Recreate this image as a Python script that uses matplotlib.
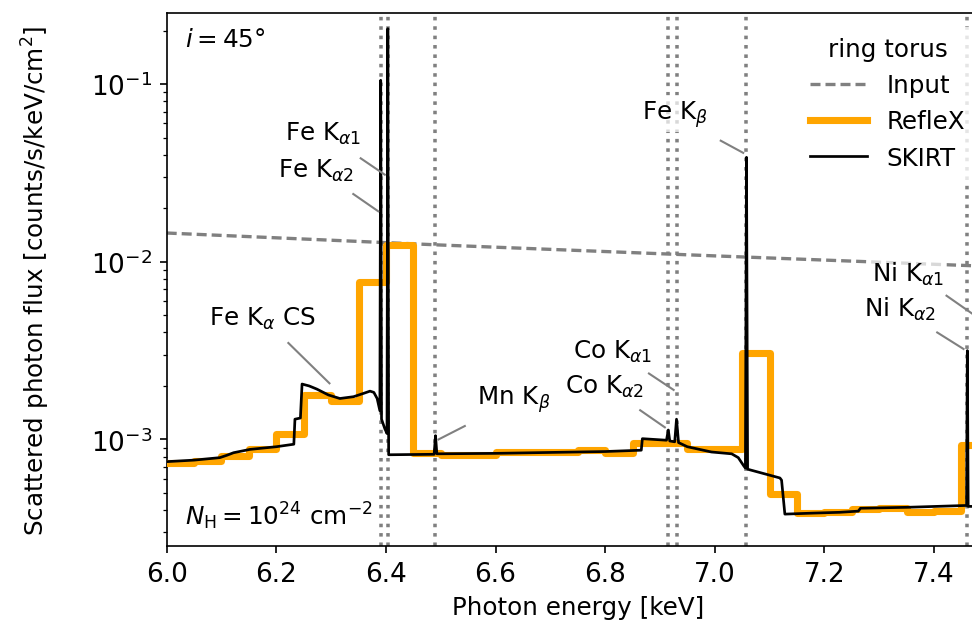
import numpy as np
import matplotlib.pyplot as plt

plt.rcParams['font.size'] = 11.8

# incident spectrum (grey dashed)
input_E = [6.0, 6.5, 7.0, 7.5]
input_F = [0.01451, 0.01242, 0.01079, 0.00942]

# RefleX histogram, 0.05 keV bins
reflex_edges = [6.00, 6.05, 6.10, 6.15, 6.20, 6.25, 6.30, 6.35, 6.40, 6.45,
                6.50, 6.55, 6.60, 6.65, 6.70, 6.75, 6.80, 6.85, 6.90, 6.95,
                7.00, 7.05, 7.10, 7.15, 7.20, 7.25, 7.30, 7.35, 7.40, 7.45, 7.50]
reflex_F = [7.4e-4, 7.55e-4, 8.1e-4, 8.8e-4, 1.07e-3, 1.77e-3, 1.64e-3, 7.7e-3, 1.24e-2, 8.4e-4,
            8.2e-4, 8.2e-4, 8.45e-4, 8.45e-4, 8.5e-4, 8.7e-4, 8.4e-4, 9.5e-4, 9.5e-4, 8.8e-4,
            8.8e-4, 3.08e-3, 4.9e-4, 3.85e-4, 3.9e-4, 4.05e-4, 4.1e-4, 3.93e-4, 3.97e-4, 9.3e-4]

# SKIRT spectrum
skirt_E = [6.000, 6.050, 6.097, 6.110, 6.122, 6.152, 6.200, 6.232, 6.234, 6.244,
           6.247, 6.260, 6.274, 6.295, 6.316, 6.341, 6.360, 6.371, 6.378, 6.384,
           6.389, 6.3905, 6.392, 6.398, 6.402, 6.4035, 6.405, 6.488, 6.4905, 6.493,
           6.600, 6.700, 6.800, 6.866, 6.868, 6.912, 6.9153, 6.918, 6.927, 6.9303,
           6.934, 6.950, 6.994, 7.031, 7.043, 7.053, 7.056, 7.058, 7.060, 7.119,
           7.122, 7.128, 7.180, 7.228, 7.262, 7.266, 7.350, 7.447, 7.4595, 7.461,
           7.4625, 7.476, 7.478, 7.480, 7.500]
skirt_F = [7.5e-4, 7.65e-4, 7.9e-4, 8.15e-4, 8.42e-4, 8.79e-4, 9.1e-4, 9.4e-4, 1.30e-3, 1.32e-3,
           2.05e-3, 2.0e-3, 1.92e-3, 1.78e-3, 1.70e-3, 1.74e-3, 1.82e-3, 1.87e-3, 1.84e-3, 1.70e-3,
           1.45e-3, 0.105, 1.3e-3, 1.15e-3, 1.08e-3, 0.205, 8.2e-4, 8.25e-4, 1.05e-3, 8.3e-4,
           8.35e-4, 8.45e-4, 8.55e-4, 8.7e-4, 1.01e-3, 9.9e-4, 1.13e-3, 9.8e-4, 9.7e-4, 1.30e-3,
           9.6e-4, 9.1e-4, 8.5e-4, 8.3e-4, 7.9e-4, 7.1e-4, 6.9e-4, 0.0387, 6.8e-4, 6.07e-4,
           5.9e-4, 3.8e-4, 3.85e-4, 3.89e-4, 3.95e-4, 4.1e-4, 4.15e-4, 4.24e-4, 4.25e-4, 3.16e-3,
           4.2e-4, 4.2e-4, 2.5e-3, 4.2e-4, 4.2e-4]

# fluorescent line energies (dotted)
line_E = [6.3908, 6.4038, 6.4905, 6.9153, 6.9303, 7.058, 7.461, 7.478]

# labels: text, text centre (E, F), line start (E, F), line end (E, F)
labels = [
    (r'Fe K$_{\alpha1}$', (6.286, 0.053), (6.354, 0.0382), (6.398, 0.0309)),
    (r'Fe K$_{\alpha2}$', (6.273, 0.0328), (6.3405, 0.02405), (6.386, 0.01923)),
    (r'Fe K$_{\alpha}$ CS', (6.174, 4.82e-3), (6.222, 3.49e-3), (6.297, 2.07e-3)),
    (r'Mn K$_{\beta}$', (6.633, 1.69e-3), (6.544, 1.19e-3), (6.496, 1.0e-3)),
    (r'Co K$_{\alpha1}$', (6.814, 3.17e-3), (6.880, 2.35e-3), (6.925, 1.90e-3)),
    (r'Co K$_{\alpha2}$', (6.799, 2.0e-3), (6.864, 1.46e-3), (6.909, 1.17e-3)),
    (r'Fe K$_{\beta}$', (6.927, 0.068), (7.011, 0.048), (7.052, 0.041)),
    (r'Ni K$_{\alpha1}$', (7.353, 8.56e-3), (7.423, 6.44e-3), (7.474, 5.0e-3)),
    (r'Ni K$_{\alpha2}$', (7.338, 5.44e-3), (7.406, 4.0e-3), (7.454, 3.23e-3)),
]

fig = plt.figure(figsize=(6.48, 4.1533), dpi=150)
ax = fig.add_axes([0.1715, 0.1213, 0.8457, 0.8557])

for e in line_E:
    ax.axvline(e, color='grey', ls=':', lw=1.7, zorder=1)

ax.plot(input_E, input_F, color='grey', ls=(0, (3, 1.5)), lw=1.6, label='Input', zorder=2)
ax.step(reflex_edges, reflex_F + [reflex_F[-1]], where='post', color='orange',
        lw=3.4, label='RefleX', zorder=3)
ax.plot(skirt_E, skirt_F, color='black', lw=1.3, label='SKIRT', zorder=4)

for txt, tpos, p0, p1 in labels:
    ax.text(tpos[0], tpos[1], txt, ha='center', va='center', zorder=5,
            bbox=dict(facecolor='white', alpha=0.7, edgecolor='none', pad=1.5))
    ax.plot([p0[0], p1[0]], [p0[1], p1[1]], color='grey', lw=1.0, zorder=5)

ax.text(0.022, 0.952, r'$i = 45°$', transform=ax.transAxes, ha='left', va='center')
ax.text(0.022, 0.058, r'$N_{\rm H} = 10^{24}$ cm$^{-2}$', transform=ax.transAxes,
        ha='left', va='center')

ax.set_yscale('log')
ax.set_xlim(6.0, 7.5)
ax.set_ylim(2.5e-4, 0.25)
ax.tick_params(labelsize=12.6)
ax.set_xlabel('Photon energy [keV]')
ax.set_ylabel(r'Scattered photon flux [counts/s/keV/cm$^2$]')
ax.yaxis.set_label_coords(-0.1395, 0.5)

leg = ax.legend(title='ring torus', loc='upper right', bbox_to_anchor=(1.003, 0.955),
                bbox_transform=fig.transFigure, borderaxespad=0, handlelength=2.3,
                framealpha=0.8, edgecolor='none', fancybox=False)
leg.set_zorder(6)

fig.savefig('out.png', dpi=150)
